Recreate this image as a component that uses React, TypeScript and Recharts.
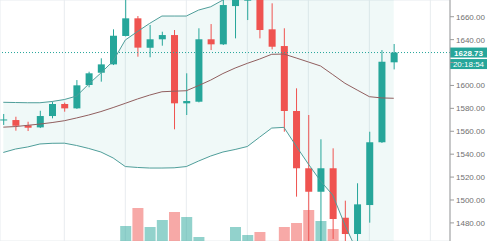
import {
  ComposedChart,
  Bar,
  Line,
  Area,
  XAxis,
  YAxis,
  CartesianGrid,
  ReferenceLine,
  Cell,
} from "recharts";

const UP = "#26a69a";
const DOWN = "#ef5350";

/* --------- OHLC (one entry per candle) --------- */
const opens = [
  1569.5, 1569.8, 1565.2, 1563.4, 1573.3, 1583.8, 1580.0, 1600.4, 1611.1, 1618.4,
  1643.2, 1658.6, 1632.9, 1640.3, 1644.0, 1584.4, 1585.8, 1640.3, 1635.9, 1669.3,
  1674.0, 1686.0, 1649.0, 1634.4, 1577.7, 1527.7, 1507.2, 1527.7, 1484.5, 1470.3,
  1495.6, 1550.4, 1620.2,
];
const highs = [
  1575.1, 1572.7, 1568.3, 1577.9, 1585.5, 1585.0, 1604.7, 1612.0, 1623.7, 1649.0,
  1680.0, 1660.6, 1652.8, 1646.9, 1648.4, 1610.6, 1649.9, 1653.6, 1676.0, 1683.0,
  1690.0, 1692.0, 1671.7, 1649.9, 1597.5, 1574.2, 1553.0, 1545.1, 1499.4, 1514.6,
  1559.6, 1630.9, 1636.2,
];
const lows = [
  1565.5, 1560.5, 1560.2, 1562.8, 1571.3, 1577.1, 1579.5, 1598.4, 1603.3, 1617.8,
  1642.8, 1625.1, 1624.6, 1634.7, 1561.7, 1574.2, 1585.2, 1630.9, 1635.3, 1641.1,
  1657.1, 1641.1, 1631.5, 1559.6, 1502.9, 1460.0, 1460.0, 1466.0, 1458.0, 1455.0,
  1480.2, 1549.8, 1614.0,
];
const closes = [
  1570.3, 1564.8, 1563.1, 1573.3, 1583.8, 1580.0, 1600.1, 1610.6, 1618.4, 1643.4,
  1658.6, 1633.0, 1640.3, 1644.0, 1584.4, 1586.4, 1640.3, 1635.9, 1670.2, 1678.0,
  1685.0, 1648.4, 1633.8, 1577.7, 1527.7, 1507.2, 1527.7, 1483.4, 1470.3, 1496.2,
  1550.4, 1620.7, 1628.73,
];
// only the top of the volume pane is visible
const volumes = [
  0, 0, 0, 0, 0, 0, 0, 0, 0, 0,
  15, 33, 14, 21, 29, 24, 4, 0, 0, 14,
  6, 9, 0, 14, 18, 31, 20, 12, 0, 0,
  0, 0, 0,
];

/* --------- Bollinger bands --------- */
const upperBand = [
  1585.3, 1585.1, 1584.9, 1584.9, 1586.0, 1587.7, 1590.7, 1601.2, 1610.9, 1621.3,
  1639.7, 1647.1, 1654.2, 1660.6, 1660.6, 1660.6, 1665.8, 1668.7, 1674.6, 1678.0,
  1682.0, 1685.0, 1687.0, 1689.0, 1693.0, 1697.0, 1700.0, 1703.0, 1706.0, 1707.0,
  1708.0, 1708.0, 1706.0,
];
const basisBand = [
  1563.6, 1564.1, 1565.2, 1566.3, 1567.6, 1569.2, 1571.6, 1574.2, 1577.2, 1580.7,
  1584.4, 1588.2, 1591.6, 1594.5, 1595.0, 1595.4, 1599.9, 1604.7, 1610.4, 1615.2,
  1619.3, 1623.0, 1627.2, 1627.4, 1624.0, 1620.5, 1617.0, 1609.5, 1601.9, 1596.0,
  1590.2, 1589.1, 1588.8,
];
const lowerBand = [
  1541.5, 1544.5, 1546.3, 1548.9, 1549.5, 1549.6, 1547.6, 1545.0, 1541.9, 1536.7,
  1529.2, 1528.4, 1527.9, 1527.9, 1528.1, 1529.2, 1534.0, 1538.4, 1541.9, 1544.1,
  1546.7, 1554.8, 1562.8, 1563.4, 1547.1, 1531.4, 1516.6, 1504.3, 1478.1, 1455.0,
  1450.0, 1447.0, 1446.0,
];

const priceTicks = [1480, 1500, 1520, 1540, 1560, 1580, 1600, 1620, 1640, 1660];
const timeTicks = [0, 5, 10, 15, 20, 25, 30, 35];
const LAST_PRICE = 1628.73;
const COUNTDOWN = "20:18:54";

const data = opens.map((o, i) => ({
  i,
  open: o,
  high: highs[i],
  low: lows[i],
  close: closes[i],
  volume: volumes[i],
  upper: upperBand[i],
  basis: basisBand[i],
  lower: lowerBand[i],
}));

const FONT = "'Liberation Sans', Arial, sans-serif";
const X_DOMAIN = [-0.27, 36.61];

function Candle(props: any) {
  const { x, y, width, height, payload } = props;
  const { open, close, high, low } = payload;
  const color = close >= open ? UP : DOWN;
  const ratio = height / (high - low);
  const bodyTop = y + (high - Math.max(open, close)) * ratio;
  const bodyH = Math.max(1, Math.abs(open - close) * ratio);
  const cx = x + width / 2;
  return (
    <g>
      <line x1={cx} x2={cx} y1={y} y2={y + height} stroke={color} strokeWidth={1} />
      <rect x={x} y={bodyTop} width={width} height={bodyH} fill={color} />
    </g>
  );
}

function PriceTick(props: any) {
  const { x, y, payload } = props;
  // 1620 label sits under the last-price tag
  if (payload.value === 1620) return <g />;
  return (
    <text x={x} y={y} dy={3} fill="#707070" fontSize={8} fontFamily={FONT}>
      {payload.value.toFixed(2)}
    </text>
  );
}

function PriceTag(props: any) {
  const vb = props.viewBox || {};
  const left = vb.x + vb.width;
  const cy = vb.y;
  return (
    <g>
      <rect x={left} y={cy - 5} width={37} height={10} fill={UP} />
      <text x={left + 18.5} y={cy + 3} textAnchor="middle" fill="#fff" fontSize={8} fontWeight="bold" fontFamily={FONT}>
        {LAST_PRICE.toFixed(2)}
      </text>
      <rect x={left} y={cy + 6.5} width={37} height={10} fill={UP} />
      <text x={left + 18.5} y={cy + 14.5} textAnchor="middle" fill="#fff" fontSize={8} fontFamily={FONT}>
        {COUNTDOWN}
      </text>
    </g>
  );
}

export default function App() {
  return (
    <div style={{ position: "absolute", left: 0, top: 0, background: "#fff" }}>
      <ComposedChart width={487} height={241} data={data} margin={{ top: 0, right: 0, bottom: 0, left: 0 }}>
        <CartesianGrid stroke="#e8ecef" strokeWidth={1} />
        <XAxis dataKey="i" type="number" domain={X_DOMAIN} allowDataOverflow ticks={timeTicks} hide />
        <XAxis xAxisId="vol" dataKey="i" type="number" domain={X_DOMAIN} allowDataOverflow hide />
        <YAxis
          yAxisId="price"
          orientation="right"
          width={37}
          domain={[1464.2, 1674.6]}
          allowDataOverflow
          ticks={priceTicks}
          interval={0}
          tickSize={4}
          tickMargin={2}
          tick={PriceTick}
          axisLine={{ stroke: "#9b9b9b" }}
          tickLine={{ stroke: "#9b9b9b" }}
        />
        <YAxis yAxisId="vol" domain={[0, 241]} allowDataOverflow hide />

        {/* band fill */}
        <Area
          yAxisId="price"
          dataKey={(d: any) => [d.lower, d.upper]}
          type="linear"
          stroke="none"
          fill={UP}
          fillOpacity={0.07}
          dot={false}
          activeDot={false}
          isAnimationActive={false}
        />

        {/* volume */}
        <Bar xAxisId="vol" yAxisId="vol" dataKey="volume" barSize={11} isAnimationActive={false}>
          {data.map((d, index) => (
            <Cell key={index} fill={d.close >= d.open ? "rgba(38,166,154,0.5)" : "rgba(239,83,80,0.5)"} />
          ))}
        </Bar>

        <Line yAxisId="price" dataKey="upper" type="linear" stroke="#4f9e9a" strokeWidth={1} dot={false} activeDot={false} isAnimationActive={false} />
        <Line yAxisId="price" dataKey="lower" type="linear" stroke="#4f9e9a" strokeWidth={1} dot={false} activeDot={false} isAnimationActive={false} />
        <Line yAxisId="price" dataKey="basis" type="linear" stroke="#915f5f" strokeWidth={1} dot={false} activeDot={false} isAnimationActive={false} />

        <Bar
          yAxisId="price"
          dataKey={(d: any) => [d.low, d.high]}
          barSize={7}
          shape={Candle}
          activeBar={false}
          isAnimationActive={false}
        />

        <ReferenceLine
          yAxisId="price"
          y={LAST_PRICE}
          stroke={UP}
          strokeDasharray="1 2"
          label={(p: any) => <PriceTag {...p} />}
        />
      </ComposedChart>
    </div>
  );
}
